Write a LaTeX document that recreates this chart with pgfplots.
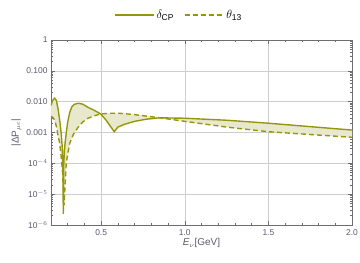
\documentclass[border=0pt]{standalone}
\usepackage{pgfplots}
\pgfplotsset{compat=1.18}
\usepackage{fontspec}
\setmainfont{Liberation Sans}
\definecolor{olive1}{RGB}{150,150,12}
\definecolor{fillc}{RGB}{232,232,204}
\definecolor{tickc}{RGB}{90,90,110}
\definecolor{gridc}{RGB}{205,205,205}
\definecolor{axc}{RGB}{110,110,110}
\begin{document}
\begin{tikzpicture}
\path[use as bounding box] (-51bp,-38bp) rectangle (309bp,225bp);
\begin{axis}[
  scale only axis,
  width=301bp, height=185bp,
  at={(0,0)}, anchor=south west,
  xmin=0.2, xmax=2.0,
  ymode=log, ymin=1e-6, ymax=1,
  xtick={0.5,1.0,1.5,2.0},
  xticklabels={0.5,1.0,1.5,2.0},
  minor xtick={0.2,0.3,0.4,0.6,0.7,0.8,0.9,1.1,1.2,1.3,1.4,1.6,1.7,1.8,1.9},
  ytick={1e-6,1e-5,1e-4,1e-3,1e-2,1e-1,1},
  minor ytick={2e-6,3e-6,4e-6,5e-6,6e-6,7e-6,8e-6,9e-6,
    2e-5,3e-5,4e-5,5e-5,6e-5,7e-5,8e-5,9e-5,
    2e-4,3e-4,4e-4,5e-4,6e-4,7e-4,8e-4,9e-4,
    2e-3,3e-3,4e-3,5e-3,6e-3,7e-3,8e-3,9e-3,
    2e-2,3e-2,4e-2,5e-2,6e-2,7e-2,8e-2,9e-2,
    2e-1,3e-1,4e-1,5e-1,6e-1,7e-1,8e-1,9e-1},
  yticklabels={10$^{-6}$,10$^{-5}$,10$^{-4}$,0.001,0.010,0.100,1},
  grid=major,
  major grid style={gridc, line width=0.5pt},
  axis line style={axc, line width=0.6pt},
  tick style={axc, line width=0.5pt},
  major tick length=4bp, minor tick length=2.2bp,
  tick align=inside,
  tick label style={tickc, font=\fontsize{8.5}{10}\selectfont},
  xticklabel style={yshift=-1bp},
  xlabel={\textit{E}$_\nu$[GeV]},
  ylabel={|ΔP$_{\mu e}$|},
  label style={tickc, font=\fontsize{10}{12}\selectfont},
  xlabel style={yshift=4bp},
  ylabel style={yshift=-2bp},
  legend columns=2,
  legend style={at={(axis description cs:0.425,1.135)}, anchor=center, draw=none, fill=none,
    font=\fontsize{12}{14}\selectfont, /tikz/every even column/.append style={column sep=8bp}},
  legend image code/.code={\draw[#1] (0bp,0bp) -- (39bp,0bp);},
]
\addplot[fill=fillc, draw=none, forget plot] coordinates {
(0.200,0.0075) (0.210,0.0110) (0.222,0.0130) (0.232,0.0110) (0.242,0.0060)
(0.252,0.0025) (0.261,0.00093) (0.267,0.00035) (0.271,0.00010) (0.2735,0.0000023)
(0.276,0.00008) (0.280,0.00025) (0.285,0.00050) (0.291,0.00095) (0.300,0.0022)
(0.312,0.0045) (0.325,0.0068) (0.340,0.0082) (0.363,0.0089) (0.390,0.0083)
(0.420,0.0066) (0.460,0.0052) (0.497,0.0040) (0.530,0.0025) (0.555,0.0016)
(0.578,0.00106) (0.600,0.0015) (0.640,0.00185) (0.700,0.0023) (0.770,0.0027)
(0.850,0.0030) (1.000,0.0029) (1.250,0.0025) (1.500,0.0020) (1.750,0.00155)
(2.000,0.00120)
(2.000,0.00070) (1.750,0.00086) (1.500,0.00106) (1.250,0.0015) (1.000,0.0023)
(0.850,0.0030) (0.700,0.0038) (0.612,0.0042) (0.550,0.0042) (0.497,0.0040)
(0.460,0.0035) (0.421,0.0029) (0.390,0.0022) (0.363,0.0015) (0.335,0.0009)
(0.312,0.00045) (0.300,0.00020) (0.291,0.0001) (0.283,0.000015) (0.2785,0.0000044)
(0.274,0.000015) (0.268,0.00006) (0.261,0.00016) (0.252,0.00045) (0.242,0.0008)
(0.232,0.0016) (0.222,0.0025) (0.212,0.0030) (0.200,0.0034)
} -- cycle;
\addplot[olive1, line width=1.4pt] coordinates {
(0.200,0.0075) (0.210,0.0110) (0.222,0.0130) (0.232,0.0110) (0.242,0.0060)
(0.252,0.0025) (0.261,0.00093) (0.267,0.00035) (0.271,0.00010) (0.2735,0.0000023)
(0.276,0.00008) (0.280,0.00025) (0.285,0.00050) (0.291,0.00095) (0.300,0.0022)
(0.312,0.0045) (0.325,0.0068) (0.340,0.0082) (0.363,0.0089) (0.390,0.0083)
(0.420,0.0066) (0.460,0.0052) (0.497,0.0040) (0.530,0.0025) (0.555,0.0016)
(0.578,0.00106) (0.600,0.0015) (0.640,0.00185) (0.700,0.0023) (0.770,0.0027)
(0.850,0.0030) (1.000,0.0029) (1.250,0.0025) (1.500,0.0020) (1.750,0.00155)
(2.000,0.00120)
};
\addlegendentry{$\delta_{\mbox{\fontsize{8.5}{9}\selectfont CP}}$}
\addplot[olive1, line width=1.4pt, dash pattern=on 5bp off 3bp] coordinates {
(0.200,0.0034) (0.212,0.0030) (0.222,0.0025) (0.232,0.0016) (0.242,0.0008)
(0.252,0.00045) (0.261,0.00016) (0.268,0.00006) (0.274,0.000015) (0.2785,0.0000044)
(0.283,0.000015) (0.291,0.0001) (0.300,0.00020) (0.312,0.00045) (0.335,0.0009)
(0.363,0.0015) (0.390,0.0022) (0.421,0.0029) (0.460,0.0035) (0.497,0.0040)
(0.550,0.0042) (0.612,0.0042) (0.700,0.0038) (0.850,0.0030) (1.000,0.0023)
(1.250,0.0015) (1.500,0.00106) (1.750,0.00086) (2.000,0.00070)
};
\addlegendentry{$\theta_{\mbox{\fontsize{8.5}{9}\selectfont 13}}$}
\end{axis}
\end{tikzpicture}
\end{document}
